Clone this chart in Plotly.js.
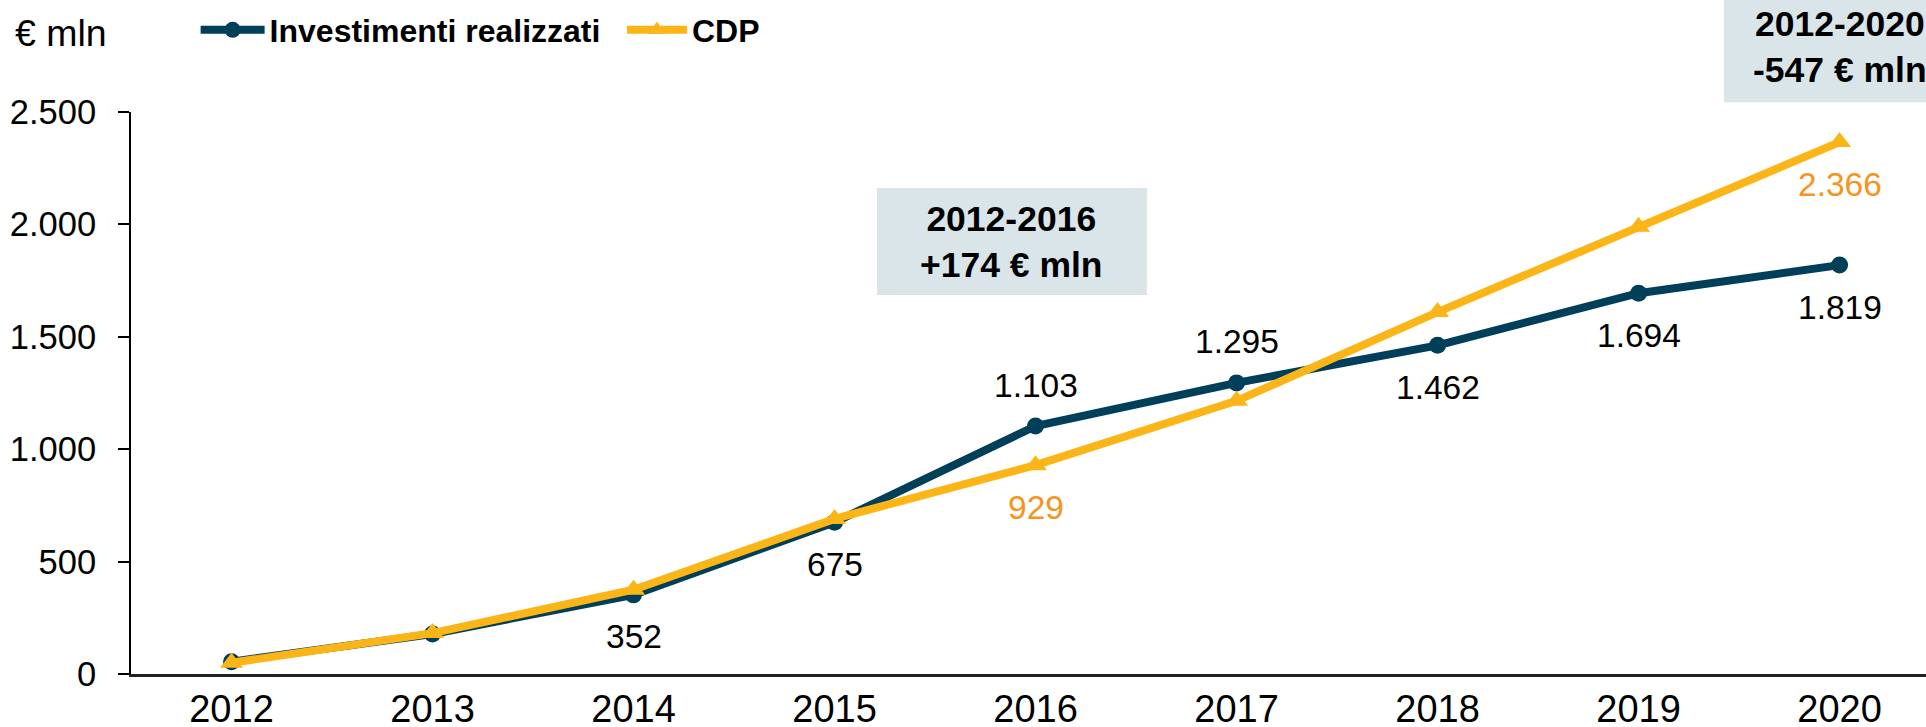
<!DOCTYPE html>
<html>
<head>
<meta charset="utf-8">
<script src="https://cdn.plot.ly/plotly-3.0.1.min.js"></script>
<style>
  html, body { margin: 0; padding: 0; background: #ffffff; }
  #chart { width: 1926px; height: 727px; }
</style>
</head>
<body>
<div id="chart"></div>
<script>
// ---- data ----
const years = ["2012", "2013", "2014", "2015", "2016", "2017", "2018", "2019", "2020"];
const investimenti = [55, 178, 352, 675, 1103, 1295, 1462, 1694, 1819];
const cdp = [50, 182, 375, 690, 929, 1215, 1610, 1990, 2366];
const investLabelPos = [null, null, "below", "below", "above", "above", "below", "below", "below"];
const cdpLabelPos = [null, null, null, null, "below", null, null, null, "below"];
const yTickVals = [0, 500, 1000, 1500, 2000, 2500];
const seriesNames = ["Investimenti realizzati", "CDP"];
const period1 = ["2012", "2016"];
const period2 = ["2012", "2020"];

// ---- style ----
const FONT = "Arial, 'Liberation Sans', sans-serif";
const TEAL = "#003F5A";
const GOLD = "#FBB516";
const ORANGE = "#F7941D";
const BOX = "#DAE5EA";

function fmt(v) {
  const s = String(Math.abs(Math.round(v)));
  const g = s.replace(/\B(?=(\d{3})+(?!\d))/g, ".");
  return (v < 0 ? "-" : "") + g;
}
function signed(v) { return (v > 0 ? "+" : "") + fmt(v); }

const traces = [
  {
    x: years, y: investimenti, name: seriesNames[0], type: "scatter", mode: "lines+markers",
    line: { color: TEAL, width: 8 },
    marker: { color: TEAL, size: 17, symbol: "circle" },
    legend: "legend", hoverinfo: "skip"
  },
  {
    x: years, y: cdp, name: seriesNames[1], type: "scatter", mode: "lines+markers",
    line: { color: GOLD, width: 8 },
    marker: { color: GOLD, size: 20, symbol: "triangle-up" },
    legend: "legend2", hoverinfo: "skip"
  }
];

const annotations = [];
function addLabels(vals, pos, color) {
  vals.forEach((v, i) => {
    if (!pos[i]) return;
    annotations.push({
      x: i, y: v, xref: "x", yref: "y", text: fmt(v), showarrow: false,
      xanchor: "center", yanchor: "middle",
      yshift: pos[i] === "above" ? 41 : -42,
      font: { family: FONT, size: 33.5, color: color }
    });
  });
}
addLabels(investimenti, investLabelPos, "#000000");
addLabels(cdp, cdpLabelPos, ORANGE);

const i1b = years.indexOf(period1[1]);
const i2b = years.indexOf(period2[1]);
const diff1 = investimenti[i1b] - cdp[i1b];
const diff2 = investimenti[i2b] - cdp[i2b];

annotations.push({
  xref: "paper", yref: "paper", x: 0.4908, y: 0.7687, xanchor: "center", yanchor: "middle",
  text: "<b>" + period1[0] + "-" + period1[1] + "</b><br><b>" + signed(diff1) + " € mln</b>",
  showarrow: false, font: { family: FONT, size: 35.5, color: "#000000" }
});
annotations.push({
  xref: "x", yref: "paper", x: i2b, y: 1.1157, xanchor: "center", yanchor: "middle",
  text: "<b>" + period2[0] + "-" + period2[1] + "</b><br><b>" + signed(diff2) + " € mln</b>",
  showarrow: false, font: { family: FONT, size: 35.5, color: "#000000" }
});
annotations.push({
  xref: "paper", yref: "paper", x: -0.0658, y: 1.1406, xanchor: "left", yanchor: "middle",
  text: "€ mln", showarrow: false, font: { family: FONT, size: 37.5, color: "#000000" }
});

const shapes = [
  { type: "rect", xref: "paper", yref: "paper", x0: 0.4156, x1: 0.566, y0: 0.6744, y1: 0.8648,
    fillcolor: BOX, line: { width: 0 }, layer: "below" },
  { type: "rect", xref: "paper", yref: "paper", x0: 0.8875, x1: 1.02, y0: 1.0173, y1: 1.21,
    fillcolor: BOX, line: { width: 0 }, layer: "below" }
];

const legendFont = { family: FONT, size: 32, color: "#000000", weight: "bold" };
const layout = {
  width: 1926, height: 727,
  margin: { l: 131, r: 0, t: 112, b: 53, pad: 0 },
  paper_bgcolor: "#ffffff", plot_bgcolor: "#ffffff",
  separators: ",.",
  font: { family: FONT, color: "#000000" },
  showlegend: true,
  legend: {
    orientation: "h", x: 0.036, y: 1.1459, xanchor: "left", yanchor: "middle",
    font: legendFont, itemwidth: 64, bgcolor: "rgba(0,0,0,0)"
  },
  legend2: {
    orientation: "h", x: 0.2735, y: 1.1459, xanchor: "left", yanchor: "middle",
    font: legendFont, itemwidth: 60, bgcolor: "rgba(0,0,0,0)"
  },
  xaxis: {
    type: "category", range: [-0.5, 8.43], showgrid: false, zeroline: false,
    showline: true, linecolor: "#222222", linewidth: 2.5, ticks: "",
    tickfont: { family: FONT, size: 38, color: "#000000" },
    ticklabelstandoff: 0, fixedrange: true
  },
  yaxis: {
    range: [0, 2500], tickvals: yTickVals, tickformat: ",d", showgrid: false, zeroline: false,
    showline: true, linecolor: "#000000", linewidth: 2, ticks: "outside", ticklen: 11,
    tickwidth: 2, tickcolor: "#000000",
    tickfont: { family: FONT, size: 34.5, color: "#000000" },
    ticklabelstandoff: 15, fixedrange: true
  },
  annotations: annotations,
  shapes: shapes
};

Plotly.newPlot("chart", traces, layout, { staticPlot: true, displayModeBar: false });
</script>
</body>
</html>
